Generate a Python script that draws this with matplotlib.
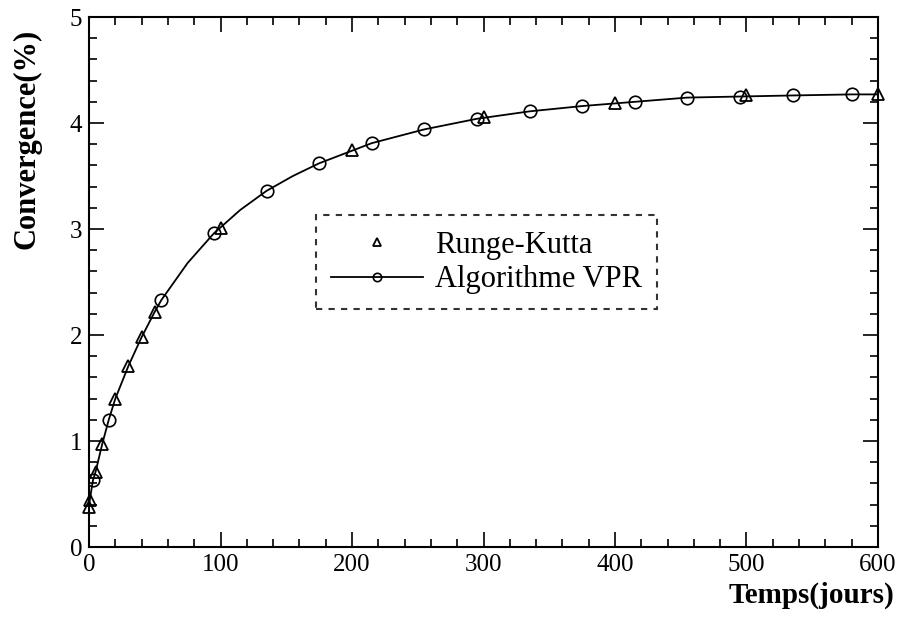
import matplotlib
matplotlib.use('Agg')
import matplotlib.pyplot as plt
from matplotlib.ticker import MultipleLocator

plt.rcParams['font.family'] = ['Liberation Serif', 'DejaVu Serif']

# Runge-Kutta (triangles)
rk_days = [0, 1, 5, 10, 20, 30, 40, 50, 100, 200, 300, 400, 500, 600]
rk_conv = [0.38, 0.44, 0.71, 0.97, 1.40, 1.71, 1.98, 2.22, 3.01, 3.75, 4.06, 4.19, 4.26, 4.27]

# Algorithme VPR: curve, circles on a subset
vpr_days = [0, 3, 5, 10, 15, 20, 30, 40, 50, 55, 75, 95, 115, 135, 155, 175, 215, 255,
            295, 335, 375, 415, 455, 495, 535, 580, 600]
vpr_conv = [0.40, 0.63, 0.71, 0.97, 1.20, 1.40, 1.71, 1.98, 2.22, 2.33, 2.68, 2.96, 3.18,
            3.36, 3.50, 3.62, 3.81, 3.94, 4.04, 4.11, 4.16, 4.20, 4.24, 4.25, 4.26, 4.27, 4.27]
vpr_marks = [1, 4, 9, 11, 13, 15, 16, 17, 18, 19, 20, 21, 22, 23, 24, 25]

fig = plt.figure(figsize=(9.03, 6.19), dpi=100)
ax = fig.add_axes([0.0986, 0.1163, 0.8737, 0.8562])

ax.plot(vpr_days, vpr_conv, '-', color='black', lw=1.3, marker='o', markevery=vpr_marks,
        markersize=9, markerfacecolor='none', markeredgecolor='black', markeredgewidth=1.2,
        label='Algorithme VPR')
ax.plot(rk_days, rk_conv, linestyle='none', marker='^', markersize=8.5,
        markerfacecolor='none', markeredgecolor='black', markeredgewidth=1.3,
        label='Runge-Kutta', clip_on=False)

ax.set_xlim(0, 600)
ax.set_ylim(0, 5)
ax.xaxis.set_major_locator(MultipleLocator(100))
ax.xaxis.set_minor_locator(MultipleLocator(20))
ax.yaxis.set_major_locator(MultipleLocator(1))
ax.yaxis.set_minor_locator(MultipleLocator(0.2))
ax.tick_params(which='both', direction='in', top=True, right=True, width=1.2, labelsize=18)
ax.tick_params(which='major', length=11, pad=5)
ax.tick_params(which='minor', length=6)
for s in ax.spines.values():
    s.set_linewidth(1.5)

handles, labels = ax.get_legend_handles_labels()
leg = ax.legend([handles[1], handles[0]], [labels[1], labels[0]], loc='center',
                bbox_to_anchor=(0.5388, 0.576), bbox_transform=fig.transFigure,
                fontsize=22, frameon=True, fancybox=False, edgecolor='black',
                handlelength=3.0, handletextpad=0.4, borderpad=0.5, labelspacing=0.18,
                borderaxespad=0)
leg.get_frame().set_linestyle((0, (3, 3)))
leg.get_frame().set_linewidth(1.5)
leg.legend_handles[0].set_markersize(6)
leg.legend_handles[1].set_markersize(6)

fig.text(0.030, 0.775, 'Convergence(%)', rotation=90, ha='center', va='center',
         fontsize=22, fontweight='bold')
fig.text(0.990, 0.038, 'Temps(jours)', ha='right', va='center',
         fontsize=21, fontweight='bold')

fig.savefig('out.png', dpi=100)
